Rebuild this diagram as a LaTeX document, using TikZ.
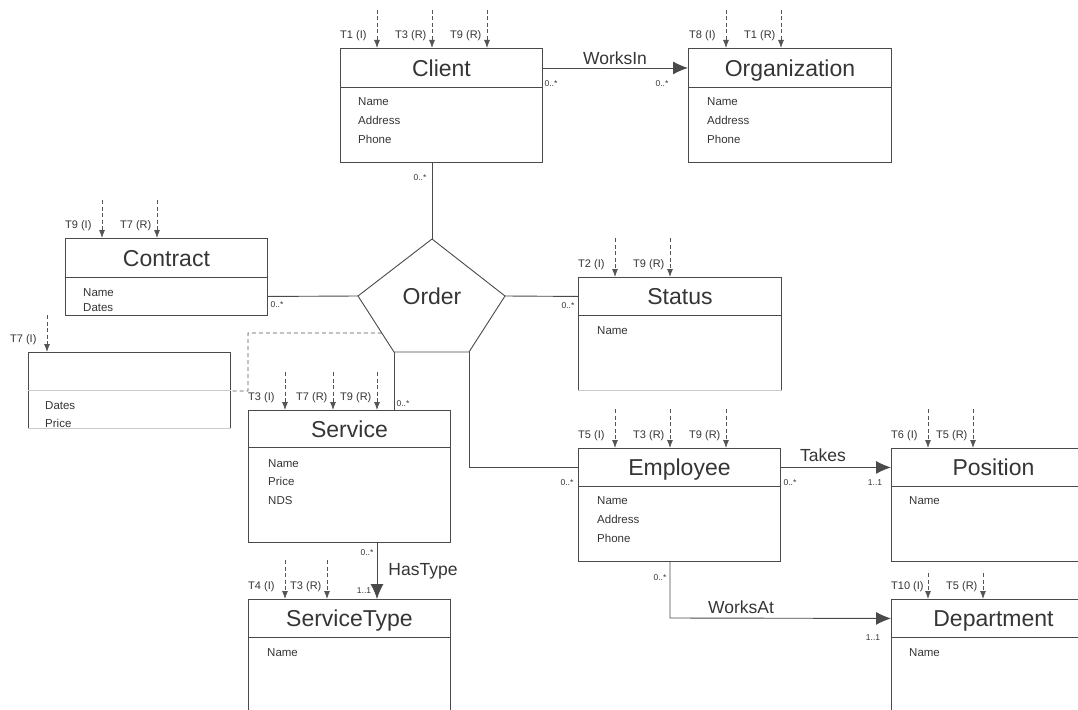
\documentclass[tikz,border=0pt]{standalone}
\usepackage{fontspec}
\setmainfont{Liberation Sans}
\usetikzlibrary{arrows.meta,calc}

\definecolor{ink}{HTML}{353535}
\definecolor{edge}{HTML}{4A4A4A}
\definecolor{faint}{HTML}{CACACA}
\definecolor{dashc}{HTML}{555555}

\tikzset{
  hdr/.style={draw=edge, line width=0.9pt, inner sep=0pt, text=ink,
    font=\fontsize{23}{23}\selectfont, text height=17pt, text depth=0pt},
  bodybox/.style={draw=edge, line width=0.9pt, inner sep=0pt},
  attr/.style={anchor=west, inner sep=0pt, text=ink,
    font=\fontsize{11.5}{13}\selectfont, text height=8.3pt, text depth=0pt},
  tlabel/.style={anchor=west, inner sep=0pt, text=ink,
    font=\fontsize{11}{13}\selectfont, text height=8pt, text depth=0pt},
  mult/.style={inner sep=0pt, text=ink,
    font=\fontsize{8.5}{10}\selectfont, text height=6pt, text depth=0pt},
  rel/.style={inner sep=0pt, text=ink,
    font=\fontsize{17.5}{20}\selectfont, text height=12.6pt, text depth=0pt},
  tarrow/.style={draw=dashc, line width=0.8pt, dash pattern=on 4pt off 2.5pt,
    -{Latex[length=8pt,width=6pt]}},
  link/.style={draw=edge, line width=0.9pt},
  assoc/.style={link, -{Latex[length=15pt,width=13pt]}},
  dlink/.style={draw=dashc, line width=0.8pt, dash pattern=on 4pt off 3pt},
  faintedge/.style={draw=faint, line width=0.9pt},
}

% class box: name, left, top, divider, bottom, right, title
\newcommand\umlclass[7]{%
  \node[hdr, anchor=north west, minimum width={#6-#2}, minimum height={#4-#3}]
    (#1-h) at (#2,#3) {#7};
  \node[bodybox, anchor=north west, minimum width={#6-#2}, minimum height={#5-#4}]
    (#1) at (#2,#4) {};}

% incoming transaction arrow: box, x, start y, label
\newcommand\tin[4]{%
  \coordinate (#1-x#2) at (#2,#3);
  \draw[tarrow] (#1-x#2) -- (#1-x#2 |- #1-h.north);
  \node[tlabel] (#1-l#2) at ($(#1-x#2 |- #1-h.north)+(-37,-14)$) {#4};}

% attribute list: box, x, first y, spacing, items
\newcommand\attrs[5]{%
  \foreach \aname [count=\i from 0] in {#5} {
    \node[attr] (#1-a\i) at (#2,{#3+#4*\i}) {\aname};
  }}

\begin{document}
\begin{tikzpicture}[x=1pt, y=-1pt]
\useasboundingbox (0,0) rectangle (1078,709);
\clip (0,0) rectangle (1078,709);

% classes
\umlclass{client}{340}{48}{87}{162}{542}{Client}
\umlclass{org}{688}{48}{87}{162}{891}{Organization}
\umlclass{contract}{65}{238}{277}{315}{267}{Contract}
\umlclass{memo}{28}{352}{390}{428}{230}{}
\umlclass{status}{578}{277}{315}{390}{781}{Status}
\umlclass{service}{248}{410}{447}{542}{450}{Service}
\umlclass{stype}{248}{599}{637}{725}{450}{ServiceType}
\umlclass{employee}{578}{448}{486}{561}{780}{Employee}
\umlclass{position}{891}{448}{486}{561}{1095}{Position}
\umlclass{department}{891}{599}{637}{725}{1095}{Department}

% light edges
\draw[faintedge] (memo-h.south west) -- (memo-h.south east);
\draw[faintedge] (memo.south west) -- (memo.south east);
\draw[faintedge] (status.south west) -- (status.south east);

% attributes
\attrs{client}{358}{101}{19}{Name,Address,Phone}
\attrs{org}{707}{101}{19}{Name,Address,Phone}
\attrs{contract}{83}{292}{15}{Name,Dates}
\begin{scope}
  \clip (memo.north west) rectangle (memo.south east);
  \attrs{memo}{45}{405}{18}{Dates,Price}
\end{scope}
\attrs{status}{597}{330}{19}{Name}
\attrs{service}{268}{463}{18.5}{Name,Price,NDS}
\attrs{stype}{267}{652}{19}{Name}
\attrs{employee}{597}{500}{19}{Name,Address,Phone}
\attrs{position}{909}{500}{19}{Name}
\attrs{department}{909}{652}{19}{Name}

% transaction arrows
\tin{client}{377}{10}{T1 (I)}
\tin{client}{432}{10}{T3 (R)}
\tin{client}{487}{10}{T9 (R)}
\tin{org}{726}{10}{T8 (I)}
\tin{org}{781}{10}{T1 (R)}
\tin{contract}{102}{200}{T9 (I)}
\tin{contract}{157}{200}{T7 (R)}
\tin{memo}{47}{315}{T7 (I)}
\tin{status}{615}{238}{T2 (I)}
\tin{status}{670}{238}{T9 (R)}
\tin{service}{285}{372}{T3 (I)}
\tin{service}{333}{372}{T7 (R)}
\tin{service}{377}{372}{T9 (R)}
\tin{stype}{285}{560}{T4 (I)}
\tin{stype}{327}{560}{T3 (R)}
\tin{employee}{615}{409}{T5 (I)}
\tin{employee}{670}{409}{T3 (R)}
\tin{employee}{726}{409}{T9 (R)}
\tin{position}{928}{409}{T6 (I)}
\tin{position}{973}{409}{T5 (R)}
\tin{department}{928}{573}{T10 (I)}
\tin{department}{983}{573}{T5 (R)}

% Order relationship
\coordinate (o-top) at (432,239);
\coordinate (o-left) at (358,296);
\coordinate (o-right) at (505,296);
\coordinate (o-bl) at (394,352);
\coordinate (o-br) at (469,352);
\draw[link] (o-top |- client.south) -- (o-top);
\draw[link] (contract.east) -- (o-left);
\draw[link] (o-right) -- (status-h.west);
\draw[link] (o-bl) -- (o-bl |- service-h.north);
\draw[link] (o-br) |- (employee-h.west);
\coordinate (o-dash) at ($(o-left)!0.66!(o-bl)$);
\coordinate (dash-corner) at (248,333);
\draw[dlink] (o-dash) -- (dash-corner) |- (memo-h.south east);
\draw[link, fill=white] (o-top) -- (o-right) -- (o-br) -- (o-bl) -- (o-left) -- cycle;
\node[hdr, draw=none] (order) at (432,296) {Order};

% associations
\draw[assoc] (client-h.east) -- (org-h.west);
\draw[assoc] (employee-h.east) -- (position-h.west);
\coordinate (ht-src) at ($(service.south west)+(129,0)$);
\draw[assoc] (ht-src) -- (ht-src |- stype-h.north);
\coordinate (wa-bend) at (670,618);
\draw[assoc] (wa-bend |- employee.south) -- (wa-bend) -- (department-h.west);

\node[rel] (lbl-worksin) at (615,58) {WorksIn};
\node[rel] (lbl-takes) at (823,455) {Takes};
\node[rel] (lbl-hastype) at (423,569) {HasType};
\node[rel] (lbl-worksat) at (741,607) {WorksAt};

% multiplicities
\node[mult] (m1) at (551,83) {0..*};
\node[mult] (m2) at (662,83) {0..*};
\node[mult] (m3) at (420,177) {0..*};
\node[mult] (m4) at (277,304) {0..*};
\node[mult] (m5) at (568,305) {0..*};
\node[mult] (m6) at (403,403) {0..*};
\node[mult] (m7) at (567,482) {0..*};
\node[mult] (m8) at (790,482) {0..*};
\node[mult] (m9) at (875,482) {1..1};
\node[mult] (m10) at (367,552) {0..*};
\node[mult] (m11) at (364,590) {1..1};
\node[mult] (m12) at (660,577) {0..*};
\node[mult] (m13) at (873,637) {1..1};
\end{tikzpicture}
\end{document}
